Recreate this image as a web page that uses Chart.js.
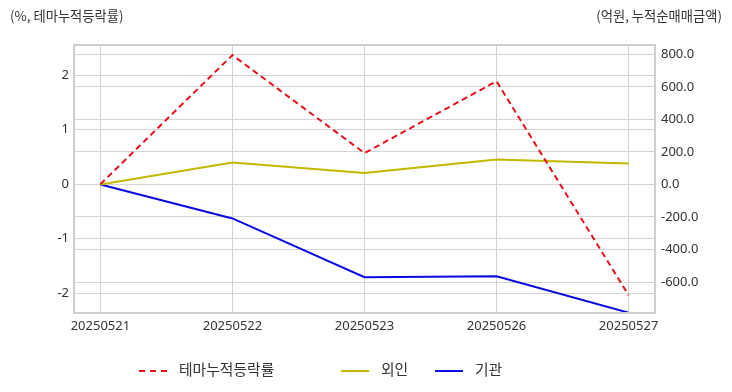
<!DOCTYPE html>
<html>
<head>
<meta charset="utf-8">
<script src="https://cdn.jsdelivr.net/npm/chart.js@4"></script>
<style>
  body { margin: 0; background: #fff; font-family: 'Noto Sans CJK KR', 'Noto Sans', sans-serif; }
  #wrap { position: relative; width: 732px; height: 392px; }
  .ttl { position: absolute; top: 6px; font-size: 13.3px; color: #333; white-space: nowrap; }
  #legend { position: absolute; top: 359px; left: 0; font-size: 14.8px; color: #333; }
  .item { position: absolute; top: 0; white-space: nowrap; line-height: 20px; }
  .swatch { display: inline-block; width: 28px; height: 0; vertical-align: middle; margin-right: 12px; }
</style>
</head>
<body>
<div id="wrap">
  <canvas id="c" width="732" height="392"></canvas>
  <div class="ttl" style="left:10px">(%, 테마누적등락률)</div>
  <div class="ttl" style="right:10px">(억원, 누적순매매금액)</div>
  <div id="legend"></div>
</div>
<script>
// 날짜 / 시리즈 값
const dates = ['20250521', '20250522', '20250523', '20250526', '20250527'];
const themeRate = [0, 2.37, 0.57, 1.89, -2.04];      // %, 테마누적등락률 (왼쪽 축)
const foreign = [0, 135, 70, 154, 129];              // 억원, 외인 (오른쪽 축)
const institution = [0, -209, -570, -564, -788];     // 억원, 기관 (오른쪽 축)

const COLORS = { red: '#e8101a', yellow: '#c4b800', blue: '#0a0ae0' };
const GRID = '#d4d4d4';
const TICK_FONT = { family: "'Noto Sans', 'Noto Sans CJK KR', sans-serif", size: 13 };

const toPts = arr => arr.map((v, i) => ({ x: i, y: v }));

const frame = {
  id: 'frame',
  afterDraw(chart) {
    const a = chart.chartArea;
    const ctx = chart.ctx;
    ctx.save();
    ctx.strokeStyle = '#cfcfcf';
    ctx.lineWidth = 2;
    ctx.strokeRect(a.left, a.top, a.right - a.left, a.bottom - a.top);
    ctx.restore();
  },
};

new Chart(document.getElementById('c'), {
  type: 'line',
  data: {
    datasets: [
      { label: '테마누적등락률', data: toPts(themeRate), yAxisID: 'y', borderColor: COLORS.red, borderDash: [6, 4] },
      { label: '외인', data: toPts(foreign), yAxisID: 'y1', borderColor: COLORS.yellow },
      { label: '기관', data: toPts(institution), yAxisID: 'y1', borderColor: COLORS.blue },
    ].map(ds => ({ ...ds, borderWidth: 2, pointRadius: 0, tension: 0, fill: false })),
  },
  options: {
    responsive: false,
    animation: false,
    layout: { padding: { top: 45, left: 0, right: 0, bottom: 0 } },
    plugins: { legend: { display: false }, tooltip: { enabled: false } },
    scales: {
      x: {
        type: 'linear',
        min: -0.2,
        max: 4.2,
        afterBuildTicks: s => { s.ticks = dates.map((_, i) => ({ value: i })); },
        afterFit: s => { s.height = 79; },
        grid: { color: GRID, drawTicks: false },
        border: { display: false },
        ticks: { color: '#333', font: TICK_FONT, padding: 5, maxRotation: 0, callback: v => dates[v] },
      },
      y: {
        position: 'left',
        min: -2.367,
        max: 2.556,
        afterBuildTicks: s => { s.ticks = [-2, -1, 0, 1, 2].map(v => ({ value: v })); },
        afterFit: s => { s.width = 74; },
        grid: { color: GRID, drawTicks: false },
        border: { display: false },
        ticks: { color: '#333', font: TICK_FONT, padding: 5 },
      },
      y1: {
        position: 'right',
        min: -790,
        max: 857,
        afterBuildTicks: s => { s.ticks = [-600, -400, -200, 0, 200, 400, 600, 800].map(v => ({ value: v })); },
        afterFit: s => { s.width = 77; },
        grid: { color: GRID, drawTicks: false },
        border: { display: false },
        ticks: { color: '#333', font: TICK_FONT, padding: 6, callback: v => v.toFixed(1) },
      },
    },
  },
  plugins: [frame],
});

// 범례
const legendItems = [
  { label: '테마누적등락률', color: COLORS.red, dashed: true, left: 139 },
  { label: '외인', color: COLORS.yellow, dashed: false, left: 341 },
  { label: '기관', color: COLORS.blue, dashed: false, left: 435 },
];
const legend = document.getElementById('legend');
legendItems.forEach(it => {
  const d = document.createElement('div');
  d.className = 'item';
  d.style.left = it.left + 'px';
  const sw = document.createElement('span');
  sw.className = 'swatch';
  sw.style.borderTop = `2px ${it.dashed ? 'dashed' : 'solid'} ${it.color}`;
  d.appendChild(sw);
  d.appendChild(document.createTextNode(it.label));
  legend.appendChild(d);
});
</script>
</body>
</html>
